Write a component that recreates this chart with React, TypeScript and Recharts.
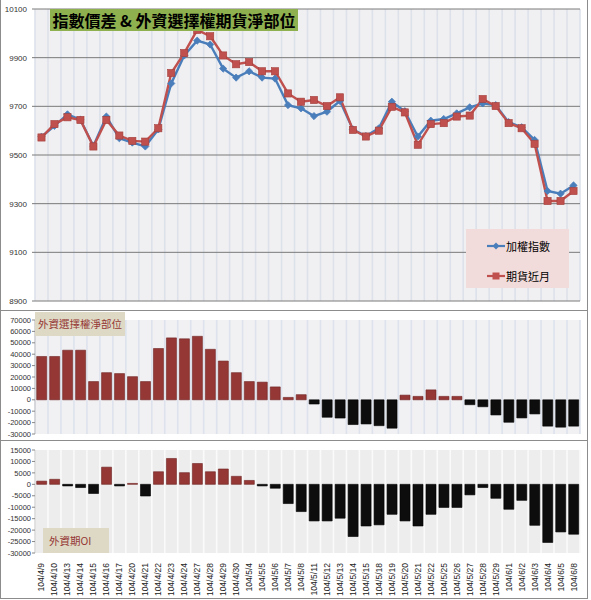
import React from 'react';
import { LineChart, Line, BarChart, Bar, XAxis, YAxis, CartesianGrid, Cell, Legend } from 'recharts';

const dates = [
  '104/4/9', '104/4/10', '104/4/13', '104/4/14', '104/4/15', '104/4/16', '104/4/17', '104/4/20', '104/4/21', '104/4/22',
  '104/4/23', '104/4/24', '104/4/27', '104/4/28', '104/4/29', '104/4/30', '104/5/4', '104/5/5', '104/5/6', '104/5/7',
  '104/5/8', '104/5/11', '104/5/12', '104/5/13', '104/5/14', '104/5/15', '104/5/18', '104/5/19', '104/5/20', '104/5/21',
  '104/5/22', '104/5/25', '104/5/26', '104/5/27', '104/5/28', '104/5/29', '104/6/1', '104/6/2', '104/6/3', '104/6/4',
  '104/6/5', '104/6/8',
];

const taiex = [
  9575, 9620, 9667, 9645, 9537, 9658, 9569, 9551, 9535, 9605,
  9794, 9909, 9970, 9954, 9855, 9818, 9844, 9818, 9814, 9705,
  9692, 9660, 9678, 9722, 9605, 9578, 9610, 9719, 9680, 9576,
  9641, 9648, 9671, 9696, 9712, 9705, 9635, 9614, 9562, 9352,
  9341, 9375,
];

const futures = [
  9572, 9627, 9655, 9644, 9535, 9644, 9580, 9558, 9555, 9610,
  9837, 9919, 10014, 9988, 9909, 9873, 9882, 9844, 9844, 9753,
  9719, 9726, 9701, 9737, 9603, 9576, 9600, 9698, 9675, 9542,
  9627, 9631, 9658, 9662, 9730, 9701, 9631, 9610, 9546, 9311,
  9311, 9352,
];

const optionNet = [
  38000, 38000, 43500, 43500, 16000, 23800, 23000, 20300, 16000, 45000,
  54300, 53500, 55700, 44300, 34000, 23800, 16000, 15500, 11300, 2100,
  4500, -3700, -15300, -16000, -21700, -21200, -22700, -24900, 4100, 3000,
  8700, 3000, 3000, -4300, -6100, -13300, -19700, -15900, -12400, -23100,
  -24000, -23100,
];

const futuresOI = [
  1400, 2200, -700, -1400, -4000, 7500, -700, 400, -5100, 5500,
  11300, 5100, 9100, 5500, 6700, 3500, 1700, -700, -1700, -8400,
  -11900, -16000, -16000, -14800, -22800, -18200, -17700, -13100, -16000, -18200,
  -13100, -10100, -10100, -4600, -1400, -6100, -10900, -7000, -17900, -25400,
  -20800, -21800,
];

const priceTicks = [8900, 9100, 9300, 9500, 9700, 9900, 10100];
const optionTicks = [-30000, -20000, -10000, 0, 10000, 20000, 30000, 40000, 50000, 60000, 70000];
const oiTicks = [-30000, -25000, -20000, -15000, -10000, -5000, 0, 5000, 10000, 15000];

const seriesNames = { taiex: '加權指數', futures: '期貨近月' };
const titleText = '指數價差 & 外資選擇權期貨淨部位';
const optionLabel = '外資選擇權淨部位';
const oiLabel = '外資期OI';

const priceData = dates.map((d, i) => ({ date: d, taiex: taiex[i], futures: futures[i] }));
const optionData = dates.map((d, i) => ({ date: d, v: optionNet[i] }));
const oiData = dates.map((d, i) => ({ date: d, v: futuresOI[i] }));

const BLUE = '#4a7ebb';
const RED = '#c0504d';
const BAR_RED = '#953735';
const BAR_BLACK = '#0d0d0d';
const FONT = '"Liberation Sans", Arial, sans-serif';
const CJK = '"Noto Sans CJK TC", "Noto Sans CJK SC", sans-serif';

const N = dates.length;
const bandLines = (args: any) => {
  const off = args.offset;
  const out: number[] = [];
  for (let k = 0; k <= N; k++) out.push(off.left + (k * off.width) / N);
  return out;
};

const Diamond = (p: any) => {
  const { cx, cy, index } = p;
  if (cx == null || cy == null) return <g key={`d${index}`} />;
  const r = 3.6;
  return (
    <path
      key={`d${index}`}
      d={`M${cx},${cy - r} L${cx + r},${cy} L${cx},${cy + r} L${cx - r},${cy} Z`}
      fill={BLUE}
      stroke={BLUE}
      strokeWidth={0.8}
    />
  );
};

const Square = (p: any) => {
  const { cx, cy, index } = p;
  if (cx == null || cy == null) return <g key={`s${index}`} />;
  const r = 3.6;
  return <rect key={`s${index}`} x={cx - r} y={cy - r} width={2 * r} height={2 * r} fill={RED} stroke="#a33f3c" strokeWidth={0.6} />;
};

const LegendBox = () => (
  <div
    style={{
      width: 103,
      height: 59,
      background: '#f2dcdb',
      fontFamily: CJK,
      fontSize: 11,
      color: '#000',
      boxSizing: 'border-box',
      paddingLeft: 20,
      paddingTop: 8,
    }}
  >
    <div style={{ display: 'flex', alignItems: 'center', height: 17 }}>
      <svg width={20} height={10}>
        <line x1={1} y1={5} x2={19} y2={5} stroke={BLUE} strokeWidth={2.2} />
        <path d="M10,1.5 L13.5,5 L10,8.5 L6.5,5 Z" fill={BLUE} />
      </svg>
      <span>{seriesNames.taiex}</span>
    </div>
    <div style={{ display: 'flex', alignItems: 'center', height: 17, marginTop: 13 }}>
      <svg width={20} height={10}>
        <line x1={1} y1={5} x2={19} y2={5} stroke={RED} strokeWidth={2.2} />
        <rect x={6.5} y={1.5} width={7} height={7} fill={RED} />
      </svg>
      <span>{seriesNames.futures}</span>
    </div>
  </div>
);

const DateTick = (props: any) => {
  const { x, y, payload } = props;
  return (
    <g transform={`translate(${x},${y + 2})`}>
      <text transform="rotate(-90)" textAnchor="end" dominantBaseline="central" fontSize={8.5} fill="#222" fontFamily={FONT}>
        {payload.value}
      </text>
    </g>
  );
};

const panelBorder = '1px solid #8c8c8c';

export default function App() {
  return (
    <div style={{ position: 'absolute', left: 0, top: 0, width: 591, height: 600, background: '#fff' }}>
      {/* top panel */}
      <div style={{ position: 'absolute', left: 0, top: 0, width: 588, height: 310, borderLeft: panelBorder, borderRight: panelBorder, boxSizing: 'border-box' }} />
      <div style={{ position: 'absolute', left: 0, top: 0 }}>
        <LineChart width={591} height={310} data={priceData} margin={{ top: 9, right: 11, bottom: 9, left: 0 }}>
          <CartesianGrid
            fill="#f0f0f2"
            fillOpacity={1}
            stroke="#dde1ea"
            strokeWidth={1.6}
            horizontal={false}
            verticalCoordinatesGenerator={bandLines}
          />
          <CartesianGrid stroke="#7a7a7a" strokeWidth={1} vertical={false} />
          <XAxis dataKey="date" hide scale="band" />
          <YAxis
            width={35}
            domain={[8900, 10100]}
            ticks={priceTicks}
            interval={0}
            tick={{ fontSize: 8, fill: '#333', fontFamily: FONT }}
            tickLine={{ stroke: '#7a7a7a' }}
            tickSize={3}
            tickMargin={5}
            axisLine={false}
          />
          <Line dataKey="taiex" name={seriesNames.taiex} stroke={BLUE} strokeWidth={2.4} dot={Diamond} isAnimationActive={false} />
          <Line dataKey="futures" name={seriesNames.futures} stroke={RED} strokeWidth={2.4} dot={Square} isAnimationActive={false} />
          <Legend
            layout="horizontal"
            verticalAlign="middle"
            align="center"
            content={() => <LegendBox />}
            wrapperStyle={{ position: 'absolute', left: 466, top: 229, width: 103, height: 59 }}
          />
        </LineChart>
      </div>
      <div
        style={{
          position: 'absolute',
          left: 50,
          top: 9,
          width: 248,
          height: 22,
          background: '#8fb04f',
          fontFamily: CJK,
          fontWeight: 700,
          fontSize: 16,
          lineHeight: '22px',
          color: '#000',
          textAlign: 'center',
          whiteSpace: 'nowrap',
        }}
      >
        {titleText}
      </div>

      {/* middle panel */}
      <div style={{ position: 'absolute', left: 0, top: 310, width: 588, height: 131, border: panelBorder, boxSizing: 'border-box' }} />
      <div style={{ position: 'absolute', left: 0, top: 311 }}>
        <BarChart width={591} height={130} data={optionData} margin={{ top: 9, right: 11, bottom: 7, left: 0 }} barCategoryGap="13%">
          <CartesianGrid
            fill="#f1f1f4"
            fillOpacity={1}
            stroke="#dde2ec"
            strokeWidth={1.6}
            horizontal={false}
            verticalCoordinatesGenerator={bandLines}
          />
          <XAxis dataKey="date" hide />
          <YAxis
            width={35}
            domain={[-30000, 70000]}
            ticks={optionTicks}
            interval={0}
            tick={{ fontSize: 7.5, fill: '#333', fontFamily: FONT }}
            tickLine={{ stroke: '#888' }}
            tickSize={3}
            tickMargin={1}
            axisLine={{ stroke: '#c8c8c8' }}
          />
          <Bar dataKey="v" isAnimationActive={false}>
            {optionData.map((d, i) => (
              <Cell key={i} fill={d.v >= 0 ? BAR_RED : BAR_BLACK} stroke={d.v >= 0 ? '#6e2523' : '#000'} strokeWidth={0.6} />
            ))}
          </Bar>
        </BarChart>
      </div>
      <div
        style={{
          position: 'absolute',
          left: 35,
          top: 312,
          width: 90,
          height: 24,
          background: '#ddd9c4',
          fontFamily: CJK,
          fontSize: 10.5,
          lineHeight: '24px',
          color: '#953735',
          textAlign: 'center',
          whiteSpace: 'nowrap',
        }}
      >
        {optionLabel}
      </div>

      {/* bottom panel */}
      <div style={{ position: 'absolute', left: 0, top: 440, width: 588, height: 159, border: panelBorder, boxSizing: 'border-box' }} />
      <div style={{ position: 'absolute', left: 0, top: 441 }}>
        <BarChart width={591} height={157} data={oiData} margin={{ top: 9, right: 11, bottom: 1, left: 0 }} barCategoryGap="13%">
          <CartesianGrid
            fill="#ededed"
            fillOpacity={1}
            stroke="#fafafa"
            strokeWidth={1.6}
            horizontal={false}
            verticalCoordinatesGenerator={bandLines}
          />
          <XAxis dataKey="date" height={44} interval={0} tick={<DateTick />} tickLine={false} axisLine={false} />
          <YAxis
            width={35}
            domain={[-30000, 15000]}
            ticks={oiTicks}
            interval={0}
            tick={{ fontSize: 7.5, fill: '#333', fontFamily: FONT }}
            tickLine={{ stroke: '#888' }}
            tickSize={3}
            tickMargin={1}
            axisLine={{ stroke: '#c8c8c8' }}
          />
          <Bar dataKey="v" isAnimationActive={false}>
            {oiData.map((d, i) => (
              <Cell key={i} fill={d.v >= 0 ? BAR_RED : BAR_BLACK} stroke={d.v >= 0 ? '#6e2523' : '#000'} strokeWidth={0.6} />
            ))}
          </Bar>
        </BarChart>
      </div>
      <div
        style={{
          position: 'absolute',
          left: 43,
          top: 528,
          width: 66,
          height: 25,
          background: '#ddd9c4',
          fontFamily: CJK,
          fontSize: 10.5,
          lineHeight: '25px',
          color: '#953735',
          paddingLeft: 6,
          boxSizing: 'border-box',
          whiteSpace: 'nowrap',
        }}
      >
        {oiLabel}
      </div>
    </div>
  );
}
